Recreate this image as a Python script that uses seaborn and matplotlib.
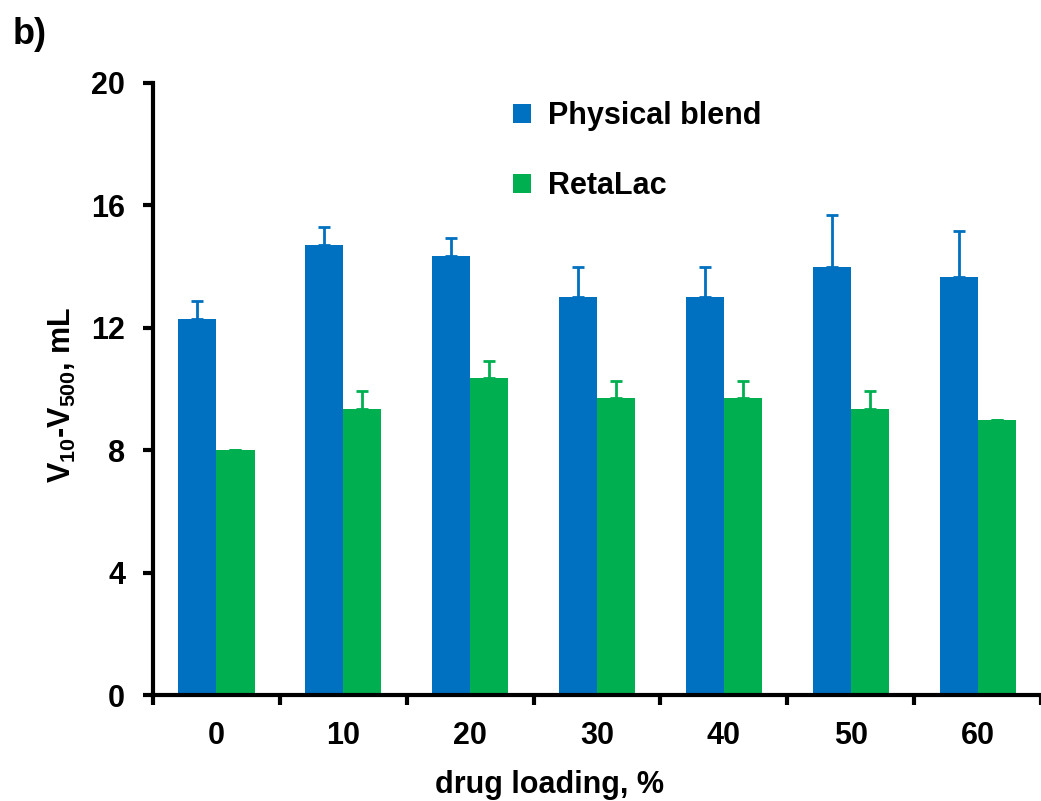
import numpy as np
import pandas as pd
import matplotlib
matplotlib.use("Agg")
import matplotlib.pyplot as plt
import seaborn as sns

# values
loadings = ["0", "10", "20", "30", "40", "50", "60"]
blend_vals = [12.3, 14.7, 14.35, 13.0, 13.0, 14.0, 13.65]
blend_err = [0.57, 0.58, 0.57, 1.0, 1.0, 1.7, 1.5]
retalac_vals = [8.0, 9.35, 10.35, 9.7, 9.7, 9.35, 9.0]
retalac_err = [0.0, 0.57, 0.58, 0.57, 0.57, 0.57, 0.0]
series = ["Physical blend", "RetaLac"]
colors = {"Physical blend": "#0070C0", "RetaLac": "#00B050"}

df = pd.DataFrame({
    "loading": loadings * 2,
    "value": blend_vals + retalac_vals,
    "series": [series[0]] * len(loadings) + [series[1]] * len(loadings),
})

sns.set_style("ticks")
plt.rcParams["font.family"] = ["Liberation Sans", "DejaVu Sans"]
plt.rcParams["font.weight"] = "bold"
plt.rcParams["mathtext.fontset"] = "custom"
plt.rcParams["mathtext.bf"] = "Liberation Sans:bold"
plt.rcParams["mathtext.rm"] = "Liberation Sans:bold"
plt.rcParams["mathtext.default"] = "bf"
for key in ["text.color", "axes.labelcolor", "xtick.color", "ytick.color",
            "axes.edgecolor"]:
    plt.rcParams[key] = "black"

fs = 22

fig = plt.figure(figsize=(10.41, 8.01), dpi=100)
ax = fig.add_axes([0.147, 0.1323, 0.853, 0.7641])

sns.barplot(data=df, x="loading", y="value", hue="series", order=loadings,
            hue_order=series, palette=colors, width=0.6, gap=0,
            errorbar=None, linewidth=0, saturation=1, ax=ax)

# upper-only error bars on the bar centres
for cont, errs, name in zip(ax.containers, [blend_err, retalac_err], series):
    xs = [b.get_x() + b.get_width() / 2 for b in cont]
    ys = [b.get_height() for b in cont]
    ax.errorbar(xs, ys, yerr=[np.zeros(len(errs)), errs], fmt="none",
                ecolor=colors[name], elinewidth=2, capsize=4.5, capthick=2,
                zorder=1)

ax.set_ylim(0, 20)
ax.set_xlim(-0.5, 6.44)
ax.set_yticks([0, 4, 8, 12, 16, 20])
ax.set_xticks(range(len(loadings)))
ax.set_xticklabels(loadings)
ax.set_xticks(np.arange(-0.5, 7, 1), minor=True)

sns.despine(ax=ax)
for sp in ["left", "bottom"]:
    ax.spines[sp].set_linewidth(3)
ax.tick_params(axis="y", which="major", length=7, width=3, pad=13,
               labelsize=fs, direction="out")
ax.tick_params(axis="x", which="major", length=0, pad=19, labelsize=fs)
ax.tick_params(axis="x", which="minor", length=7, width=3, direction="out")
for lab in ax.get_xticklabels() + ax.get_yticklabels():
    lab.set_fontweight("bold")

ax.set_xlabel("drug loading, %", fontsize=fs, fontweight="bold")
ax.xaxis.set_label_coords(0.447, -0.123)
ax.set_ylabel(r"V$_{10}$-V$_{500}$, mL", fontsize=fs, fontweight="bold")
ax.yaxis.set_label_coords(-0.085, 0.49)

handles, labels = ax.get_legend_handles_labels()
ax.legend(handles, labels, loc="upper left", bbox_to_anchor=(0.405, 0.97),
          frameon=False, handlelength=0.6, handleheight=0.6,
          handletextpad=0.55, labelspacing=1.3, borderpad=0, borderaxespad=0,
          prop={"weight": "bold", "size": fs})

fig.text(0.012, 0.979, "b)", fontsize=26, fontweight="bold", va="top", ha="left")

fig.savefig("out.png", dpi=100)
